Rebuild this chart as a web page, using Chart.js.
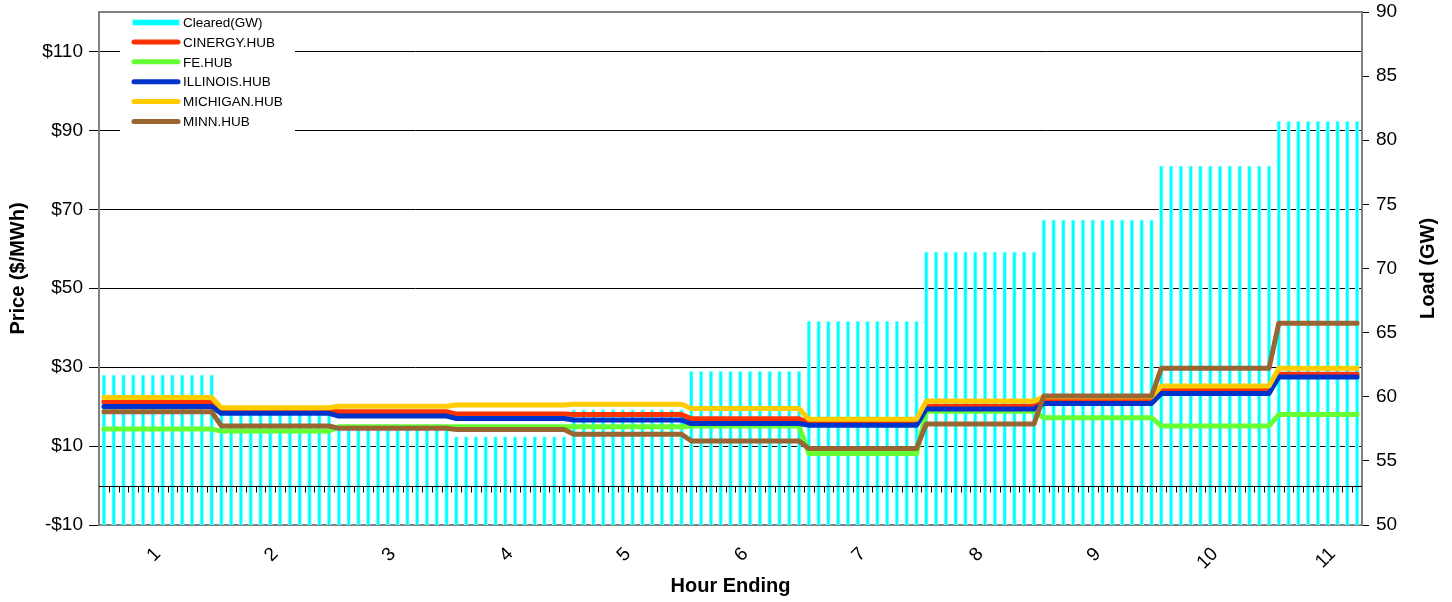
<!DOCTYPE html>
<html>
<head>
<meta charset="utf-8">
<script src="https://cdn.jsdelivr.net/npm/chart.js@4.4.1/dist/chart.umd.min.js"></script>
<style>
  body { margin: 0; background: #fff; }
  #wrap { width: 1452px; height: 602px; }
</style>
</head>
<body>
<div id="wrap"><canvas id="lmpChart"></canvas></div>
<script>
var FONT = "Arial, 'Liberation Sans', sans-serif";

var hourLabels = ["1", "2", "3", "4", "5", "6", "7", "8", "9", "10", "11"];
var priceTicks = [-10, 10, 30, 50, 70, 90, 110];

// 5-minute intervals, 12 per hour (one row per hour, hour 11 is partial)
var clearedGW = [
  61.7, 61.7, 61.7, 61.7, 61.7, 61.7, 61.7, 61.7, 61.7, 61.7, 61.7, 61.7,
  59.3, 59.3, 59.3, 59.3, 59.3, 59.3, 59.3, 59.3, 59.3, 59.3, 59.3, 59.3,
  57.7, 57.7, 57.7, 57.7, 57.7, 57.7, 57.7, 57.7, 57.7, 57.7, 57.7, 57.7,
  56.9, 56.9, 56.9, 56.9, 56.9, 56.9, 56.9, 56.9, 56.9, 56.9, 56.9, 56.9,
  59.0, 59.0, 59.0, 59.0, 59.0, 59.0, 59.0, 59.0, 59.0, 59.0, 59.0, 59.0,
  62.0, 62.0, 62.0, 62.0, 62.0, 62.0, 62.0, 62.0, 62.0, 62.0, 62.0, 62.0,
  65.9, 65.9, 65.9, 65.9, 65.9, 65.9, 65.9, 65.9, 65.9, 65.9, 65.9, 65.9,
  71.3, 71.3, 71.3, 71.3, 71.3, 71.3, 71.3, 71.3, 71.3, 71.3, 71.3, 71.3,
  73.8, 73.8, 73.8, 73.8, 73.8, 73.8, 73.8, 73.8, 73.8, 73.8, 73.8, 73.8,
  78.0, 78.0, 78.0, 78.0, 78.0, 78.0, 78.0, 78.0, 78.0, 78.0, 78.0, 78.0,
  81.5, 81.5, 81.5, 81.5, 81.5, 81.5, 81.5, 81.5, 81.5
];
var cinergyHub = [
  21.2, 21.2, 21.2, 21.2, 21.2, 21.2, 21.2, 21.2, 21.2, 21.2, 21.2, 21.2,
  18.8, 18.8, 18.8, 18.8, 18.8, 18.8, 18.8, 18.8, 18.8, 18.8, 18.8, 18.8,
  18.7, 18.7, 18.7, 18.7, 18.7, 18.7, 18.7, 18.7, 18.7, 18.7, 18.7, 18.7,
  18.1, 18.1, 18.1, 18.1, 18.1, 18.1, 18.1, 18.1, 18.1, 18.1, 18.1, 18.1,
  18.0, 18.0, 18.0, 18.0, 18.0, 18.0, 18.0, 18.0, 18.0, 18.0, 18.0, 18.0,
  16.9, 16.9, 16.9, 16.9, 16.9, 16.9, 16.9, 16.9, 16.9, 16.9, 16.9, 16.9,
  15.9, 15.9, 15.9, 15.9, 15.9, 15.9, 15.9, 15.9, 15.9, 15.9, 15.9, 15.9,
  20.1, 20.1, 20.1, 20.1, 20.1, 20.1, 20.1, 20.1, 20.1, 20.1, 20.1, 20.1,
  21.8, 21.8, 21.8, 21.8, 21.8, 21.8, 21.8, 21.8, 21.8, 21.8, 21.8, 21.8,
  24.2, 24.2, 24.2, 24.2, 24.2, 24.2, 24.2, 24.2, 24.2, 24.2, 24.2, 24.2,
  28.2, 28.2, 28.2, 28.2, 28.2, 28.2, 28.2, 28.2, 28.2
];
var feHub = [
  14.3, 14.3, 14.3, 14.3, 14.3, 14.3, 14.3, 14.3, 14.3, 14.3, 14.3, 14.3,
  13.8, 13.8, 13.8, 13.8, 13.8, 13.8, 13.8, 13.8, 13.8, 13.8, 13.8, 13.8,
  14.9, 14.9, 14.9, 14.9, 14.9, 14.9, 14.9, 14.9, 14.9, 14.9, 14.9, 14.9,
  14.9, 14.9, 14.9, 14.9, 14.9, 14.9, 14.9, 14.9, 14.9, 14.9, 14.9, 14.9,
  14.9, 14.9, 14.9, 14.9, 14.9, 14.9, 14.9, 14.9, 14.9, 14.9, 14.9, 14.9,
  15.1, 15.1, 15.1, 15.1, 15.1, 15.1, 15.1, 15.1, 15.1, 15.1, 15.1, 15.1,
  8.1, 8.1, 8.1, 8.1, 8.1, 8.1, 8.1, 8.1, 8.1, 8.1, 8.1, 8.1,
  18.8, 18.8, 18.8, 18.8, 18.8, 18.8, 18.8, 18.8, 18.8, 18.8, 18.8, 18.8,
  17.2, 17.2, 17.2, 17.2, 17.2, 17.2, 17.2, 17.2, 17.2, 17.2, 17.2, 17.2,
  15.1, 15.1, 15.1, 15.1, 15.1, 15.1, 15.1, 15.1, 15.1, 15.1, 15.1, 15.1,
  18.0, 18.0, 18.0, 18.0, 18.0, 18.0, 18.0, 18.0, 18.0
];
var illinoisHub = [
  20.0, 20.0, 20.0, 20.0, 20.0, 20.0, 20.0, 20.0, 20.0, 20.0, 20.0, 20.0,
  18.3, 18.3, 18.3, 18.3, 18.3, 18.3, 18.3, 18.3, 18.3, 18.3, 18.3, 18.3,
  17.6, 17.6, 17.6, 17.6, 17.6, 17.6, 17.6, 17.6, 17.6, 17.6, 17.6, 17.6,
  17.0, 17.0, 17.0, 17.0, 17.0, 17.0, 17.0, 17.0, 17.0, 17.0, 17.0, 17.0,
  16.6, 16.6, 16.6, 16.6, 16.6, 16.6, 16.6, 16.6, 16.6, 16.6, 16.6, 16.6,
  15.7, 15.7, 15.7, 15.7, 15.7, 15.7, 15.7, 15.7, 15.7, 15.7, 15.7, 15.7,
  15.3, 15.3, 15.3, 15.3, 15.3, 15.3, 15.3, 15.3, 15.3, 15.3, 15.3, 15.3,
  19.4, 19.4, 19.4, 19.4, 19.4, 19.4, 19.4, 19.4, 19.4, 19.4, 19.4, 19.4,
  20.8, 20.8, 20.8, 20.8, 20.8, 20.8, 20.8, 20.8, 20.8, 20.8, 20.8, 20.8,
  23.3, 23.3, 23.3, 23.3, 23.3, 23.3, 23.3, 23.3, 23.3, 23.3, 23.3, 23.3,
  27.5, 27.5, 27.5, 27.5, 27.5, 27.5, 27.5, 27.5, 27.5
];
var michiganHub = [
  22.3, 22.3, 22.3, 22.3, 22.3, 22.3, 22.3, 22.3, 22.3, 22.3, 22.3, 22.3,
  19.7, 19.7, 19.7, 19.7, 19.7, 19.7, 19.7, 19.7, 19.7, 19.7, 19.7, 19.7,
  20.1, 20.1, 20.1, 20.1, 20.1, 20.1, 20.1, 20.1, 20.1, 20.1, 20.1, 20.1,
  20.4, 20.4, 20.4, 20.4, 20.4, 20.4, 20.4, 20.4, 20.4, 20.4, 20.4, 20.4,
  20.6, 20.6, 20.6, 20.6, 20.6, 20.6, 20.6, 20.6, 20.6, 20.6, 20.6, 20.6,
  19.5, 19.5, 19.5, 19.5, 19.5, 19.5, 19.5, 19.5, 19.5, 19.5, 19.5, 19.5,
  16.8, 16.8, 16.8, 16.8, 16.8, 16.8, 16.8, 16.8, 16.8, 16.8, 16.8, 16.8,
  21.4, 21.4, 21.4, 21.4, 21.4, 21.4, 21.4, 21.4, 21.4, 21.4, 21.4, 21.4,
  22.5, 22.5, 22.5, 22.5, 22.5, 22.5, 22.5, 22.5, 22.5, 22.5, 22.5, 22.5,
  25.2, 25.2, 25.2, 25.2, 25.2, 25.2, 25.2, 25.2, 25.2, 25.2, 25.2, 25.2,
  29.7, 29.7, 29.7, 29.7, 29.7, 29.7, 29.7, 29.7, 29.7
];
var minnHub = [
  18.7, 18.7, 18.7, 18.7, 18.7, 18.7, 18.7, 18.7, 18.7, 18.7, 18.7, 18.7,
  15.1, 15.1, 15.1, 15.1, 15.1, 15.1, 15.1, 15.1, 15.1, 15.1, 15.1, 15.1,
  14.5, 14.5, 14.5, 14.5, 14.5, 14.5, 14.5, 14.5, 14.5, 14.5, 14.5, 14.5,
  14.2, 14.2, 14.2, 14.2, 14.2, 14.2, 14.2, 14.2, 14.2, 14.2, 14.2, 14.2,
  13.0, 13.0, 13.0, 13.0, 13.0, 13.0, 13.0, 13.0, 13.0, 13.0, 13.0, 13.0,
  11.3, 11.3, 11.3, 11.3, 11.3, 11.3, 11.3, 11.3, 11.3, 11.3, 11.3, 11.3,
  9.4, 9.4, 9.4, 9.4, 9.4, 9.4, 9.4, 9.4, 9.4, 9.4, 9.4, 9.4,
  15.6, 15.6, 15.6, 15.6, 15.6, 15.6, 15.6, 15.6, 15.6, 15.6, 15.6, 15.6,
  22.7, 22.7, 22.7, 22.7, 22.7, 22.7, 22.7, 22.7, 22.7, 22.7, 22.7, 22.7,
  29.7, 29.7, 29.7, 29.7, 29.7, 29.7, 29.7, 29.7, 29.7, 29.7, 29.7, 29.7,
  41.1, 41.1, 41.1, 41.1, 41.1, 41.1, 41.1, 41.1, 41.1
];

// category keys for the 5-minute intervals
var intervalLabels = clearedGW.map(function (v, i) {
  return hourLabels[Math.floor(i / 12)] + ":" + ((i % 12) + 1) * 5;
});

function lineSet(label, data, color, order) {
  return {
    type: "line",
    label: label,
    data: data,
    borderColor: color,
    backgroundColor: color,
    borderWidth: 5,
    pointRadius: 0,
    tension: 0,
    fill: false,
    borderCapStyle: "round",
    borderJoinStyle: "round",
    xAxisID: "x",
    yAxisID: "y",
    order: order
  };
}

// top frame, zero axis with its ticks, legend box and right title
var overlayPlugin = {
  id: "overlay",
  beforeDatasetsDraw: function (chart) {
    var a = chart.chartArea, ctx = chart.ctx;
    ctx.save();
    ctx.strokeStyle = "#808080";
    ctx.lineWidth = 2;
    ctx.beginPath();
    ctx.moveTo(a.left, a.top);
    ctx.lineTo(a.right, a.top);
    ctx.stroke();
    ctx.restore();
  },
  afterDatasetsDraw: function (chart) {
    var a = chart.chartArea, ctx = chart.ctx;
    var y0 = Math.round(chart.scales.y.getPixelForValue(0)) + 0.5;
    var n = intervalLabels.length, step = (a.right - a.left) / n;
    ctx.save();
    ctx.strokeStyle = "#000";
    ctx.lineWidth = 1;
    ctx.beginPath();
    ctx.moveTo(a.left, y0);
    ctx.lineTo(a.right, y0);
    for (var i = 1; i < n; i++) {
      var xx = Math.round(a.left + i * step) + 0.5;
      ctx.moveTo(xx, y0);
      ctx.lineTo(xx, y0 + 6);
    }
    ctx.stroke();

    // legend
    ctx.fillStyle = "#fff";
    ctx.fillRect(a.left + 21, a.top + 1, 175, 121);
    ctx.font = "13.5px " + FONT;
    ctx.textBaseline = "middle";
    ctx.textAlign = "left";
    chart.data.datasets.forEach(function (ds, k) {
      var yy = a.top + 10 + k * 19.9;
      if (ds.type === "bar") {
        ctx.fillStyle = "#00ffff";
        ctx.fillRect(a.left + 33, yy - 3, 48, 7);
        ctx.strokeStyle = "#b0ffff";
        ctx.lineWidth = 1;
        ctx.strokeRect(a.left + 33.5, yy - 2.5, 47, 6);
      } else {
        ctx.strokeStyle = ds.borderColor;
        ctx.lineWidth = 5;
        ctx.lineCap = "round";
        ctx.beginPath();
        ctx.moveTo(a.left + 35, yy);
        ctx.lineTo(a.left + 79, yy);
        ctx.stroke();
      }
      ctx.fillStyle = "#000";
      ctx.fillText(ds.label, a.left + 84, yy + 1);
    });

    // right axis title, reading bottom to top
    ctx.translate(a.right + 66, (a.top + a.bottom) / 2);
    ctx.rotate(-Math.PI / 2);
    ctx.font = "bold 20px " + FONT;
    ctx.textAlign = "center";
    ctx.fillStyle = "#000";
    ctx.fillText("Load (GW)", 0, 0);
    ctx.restore();
  }
};

Chart.defaults.font.family = FONT;
Chart.defaults.color = "#000";

var ctx = document.getElementById("lmpChart").getContext("2d");
var lmpChart = new Chart(ctx, {
  type: "bar",
  data: {
    labels: intervalLabels,
    datasets: [
      {
        type: "bar",
        label: "Cleared(GW)",
        data: clearedGW,
        backgroundColor: "#00ffff",
        borderColor: "#b0ffff",
        borderWidth: 1,
        barThickness: 4,
        xAxisID: "x",
        yAxisID: "yR",
        order: 10
      },
      lineSet("CINERGY.HUB", cinergyHub, "#ff3300", 5),
      lineSet("FE.HUB", feHub, "#66ff33", 4),
      lineSet("ILLINOIS.HUB", illinoisHub, "#0033cc", 3),
      lineSet("MICHIGAN.HUB", michiganHub, "#ffcc00", 2),
      lineSet("MINN.HUB", minnHub, "#996633", 1)
    ]
  },
  options: {
    responsive: true,
    maintainAspectRatio: false,
    animation: false,
    layout: { padding: { top: 12, left: 0, right: 0, bottom: 0 } },
    plugins: {
      legend: { display: false },
      tooltip: { enabled: false }
    },
    scales: {
      x: {
        type: "category",
        display: false,
        offset: true
      },
      // hour labels sit at the middle of each 12-interval group
      xHour: {
        type: "linear",
        position: "bottom",
        offset: false,
        grid: { display: false, offset: false },
        border: { display: true, color: "#808080", width: 2 },
        afterBuildTicks: function (scale) {
          scale.min = -0.5;
          scale.max = intervalLabels.length - 0.5;
          scale.ticks = hourLabels.map(function (h, i) { return { value: i * 12 + 5.5 }; });
        },
        ticks: {
          autoSkip: false,
          minRotation: 45,
          maxRotation: 45,
          padding: 10,
          font: { size: 19 },
          callback: function (v) { return hourLabels[Math.round((v - 5.5) / 12)]; }
        },
        title: {
          display: true,
          text: "Hour Ending",
          font: { size: 20, weight: "bold" },
          padding: { top: 4, bottom: 4 }
        },
        afterFit: function (scale) {
          scale.height = 77;
          scale.paddingLeft = 0;
          scale.paddingRight = 0;
        }
      },
      y: {
        type: "linear",
        position: "left",
        min: -10,
        max: 120,
        afterBuildTicks: function (scale) {
          scale.ticks = priceTicks.map(function (v) { return { value: v }; });
        },
        grid: {
          color: function (c) { return c.tick && c.tick.value === -10 ? "rgba(0,0,0,0)" : "#000"; },
          tickColor: "#000",
          tickLength: 10,
          lineWidth: 1
        },
        border: { display: true, color: "#808080", width: 2 },
        ticks: {
          padding: 6,
          font: { size: 19 },
          callback: function (v) { return v < 0 ? "-$" + Math.abs(v) : "$" + v; }
        },
        title: {
          display: true,
          text: "Price ($/MWh)",
          font: { size: 20, weight: "bold" },
          padding: { top: 6, bottom: 4 }
        },
        afterFit: function (scale) {
          scale.width = 99;
          scale.paddingTop = 0;
          scale.paddingBottom = 0;
        }
      },
      yR: {
        type: "linear",
        position: "right",
        min: 50,
        max: 90,
        grid: { drawOnChartArea: false, tickColor: "#000", tickLength: 7 },
        border: { display: true, color: "#808080", width: 2 },
        ticks: { stepSize: 5, padding: 7, font: { size: 19 } },
        afterFit: function (scale) {
          scale.width = 90;
          scale.paddingTop = 0;
          scale.paddingBottom = 0;
        }
      }
    }
  },
  plugins: [overlayPlugin]
});
</script>
</body>
</html>
